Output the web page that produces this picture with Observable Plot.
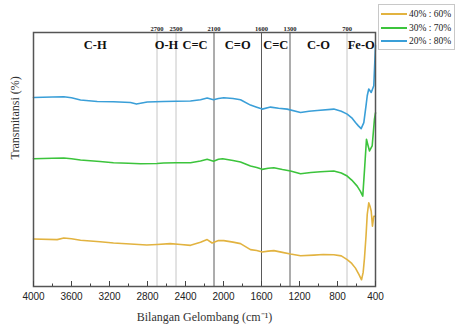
<!DOCTYPE html>
<html><head><meta charset="utf-8">
<script src="https://cdn.jsdelivr.net/npm/d3@7"></script>
<script src="https://cdn.jsdelivr.net/npm/@observablehq/plot@0.6"></script>
<style>
body{margin:0;background:#fff;overflow:hidden;width:455px;height:327px;position:relative}
#legend{position:absolute;left:378px;top:4px;width:75px;height:44px;border:1px solid #c8c8c8;background:#fff;font-family:"Liberation Serif",serif;font-size:9.5px;color:#222}
.row{position:absolute;left:2px;height:12px;display:flex;align-items:center;white-space:nowrap}
.sw{width:26px;height:0;border-top:2px solid;margin-right:2px}
</style></head><body>
<div id="chart"></div>
<div id="legend"></div>
<script>
const seriesNames = ["40% : 60%", "30% : 70%", "20% : 80%"];
const seriesColors = ["#e2b340", "#3cc43c", "#3a9fd8"];

const wnOrange = [4000,3751,3681,3600,3505,3300,3158,2980,2807,2700,2561,2450,2347,2242,2172,2120,2053,1997,1900,1821,1716,1650,1593,1530,1470,1380,1295,1189,1050,950,839,760,698,650,611,575,547,530,516,500,487,471,458,445,432,418,405];
const tOrange  = [47.3,46.7,48.3,47.5,46,44.5,43.3,42.3,41.3,41.8,42.7,41.8,41,44,46.7,43.3,45.7,45.7,44.2,42.7,36.7,35.8,34.3,35.2,35.7,34,32.3,30.7,31.3,31.8,31.7,30.5,26.7,23,18.3,12,6.7,14,28.3,50,71.7,83.3,80,75,60,70,70];

const wnGreen = [4000,3800,3681,3600,3505,3300,3158,3000,2874,2700,2630,2500,2347,2242,2172,2105,2053,2009,1900,1821,1716,1650,1593,1530,1470,1380,1295,1189,1080,979,839,760,698,650,593,560,534,513,495,480,463,435,411,400];
const tGreen  = [127.3,127.8,128,127.2,126,124.5,123.3,122.8,122.3,122.5,123,123.2,123.3,125,126.7,124.7,126.7,127.3,125.5,124,120,118.5,116.7,117.8,118.3,116.5,115,112.3,113.5,114.3,115,113,110,106,100,95,90,120,146.7,141,135,140,166.7,173];

const wnBlue = [4000,3800,3681,3600,3505,3329,3158,2979,2916,2803,2632,2500,2347,2242,2172,2105,2053,1997,1900,1821,1716,1650,1593,1505,1420,1330,1189,1100,1014,839,760,698,650,611,580,551,523,500,487,471,445,418,400];
const tBlue  = [188.3,188.8,189,188,185.7,184.3,184,183.3,181.7,183.7,184.3,184.5,184.7,186,187.7,186,187.3,188,187.3,186,180.7,178.5,176.7,178.7,177.5,176.7,173.3,174.5,175.3,176.7,174.5,171.7,168,163.3,160,157.3,163.3,180,190,196.7,193.3,200,240];

const bandLines = [2700, 2500, 2100, 1600, 1300, 700];
const bandShade = ["light", "light", "dark", "dark", "dark", "light"];
const regionNames = ["C-H", "O-H", "C=C", "C=O", "C=C", "C-O", "Fe-O"];
const regionFrom = [4000, 2700, 2500, 2100, 1600, 1300, 700];
const regionTo = [2700, 2500, 2100, 1600, 1300, 700, 400];
const majorTicks = [4000, 3600, 3200, 2800, 2400, 2000, 1600, 1200, 800, 400];
const minorTicks = [3800, 3400, 3000, 2600, 2200, 1800, 1400, 1000, 600];

const data = [
  ...wnOrange.map((w, i) => ({wn: w, t: tOrange[i], series: seriesNames[0]})),
  ...wnGreen.map((w, i) => ({wn: w, t: tGreen[i], series: seriesNames[1]})),
  ...wnBlue.map((w, i) => ({wn: w, t: tBlue[i], series: seriesNames[2]}))
];
const bands = bandLines.map((w, i) => ({wn: w, shade: bandShade[i]}));
const regions = regionNames.map((n, i) => ({name: n, mid: (regionFrom[i] + regionTo[i]) / 2}));

const serif = "Liberation Serif, Times New Roman, serif";
const plot = Plot.plot({
  width: 455, height: 327,
  marginLeft: 33, marginRight: 80, marginTop: 32, marginBottom: 41,
  style: {fontFamily: "Liberation Sans, Arial, sans-serif", fontSize: "10px", color: "#222", background: "#fff", overflow: "visible"},
  x: {domain: [4000, 400], label: null, axis: null},
  y: {domain: [0, 253], axis: null},
  color: {domain: seriesNames, range: seriesColors},
  marks: [
    Plot.ruleX(bands, {x: "wn", stroke: d => d.shade === "light" ? "#c6c6c6" : "#5a5a5a", strokeWidth: 1}),
    Plot.line(data, {x: "wn", y: "t", z: "series", stroke: "series", strokeWidth: 1.6}),
    Plot.frame({stroke: "#555", strokeWidth: 1.5}),
    Plot.ruleX(majorTicks, {x: d => d, insetTop: 249, stroke: "#444", strokeWidth: 1}),
    Plot.ruleX(minorTicks, {x: d => d, insetTop: 251.5, stroke: "#444", strokeWidth: 1}),
    Plot.axisX(majorTicks, {tickSize: 0, tickPadding: 6, fontSize: 10, color: "#222", tickFormat: d => String(d)}),
    Plot.text(bandLines, {x: d => d, frameAnchor: "top", dy: -6, text: d => String(d), fontFamily: serif, fontWeight: "bold", fontSize: 6.5, fill: "#222"}),
    Plot.text(regions, {x: "mid", text: "name", frameAnchor: "top", dy: 8, fontFamily: serif, fontWeight: "bold", fontSize: 12.5, fill: "#111"}),
    Plot.text(["Transmitansi (%)"], {frameAnchor: "left", dx: -18, rotate: -90, fontFamily: serif, fontSize: 12, fill: "#333"}),
    Plot.text(["Bilangan Gelombang (cm⁻¹)"], {frameAnchor: "bottom", dy: 34, fontFamily: serif, fontSize: 12, fill: "#333"})
  ]
});
document.getElementById("chart").appendChild(plot);

const legend = document.getElementById("legend");
const rowTops = [3, 17, 30];
seriesNames.forEach((n, i) => {
  const row = document.createElement("div");
  row.className = "row";
  row.style.top = rowTops[i] + "px";
  const sw = document.createElement("span");
  sw.className = "sw";
  sw.style.borderTopColor = seriesColors[i];
  const tx = document.createElement("span");
  tx.textContent = n;
  row.appendChild(sw); row.appendChild(tx);
  legend.appendChild(row);
});
</script>
</body></html>
